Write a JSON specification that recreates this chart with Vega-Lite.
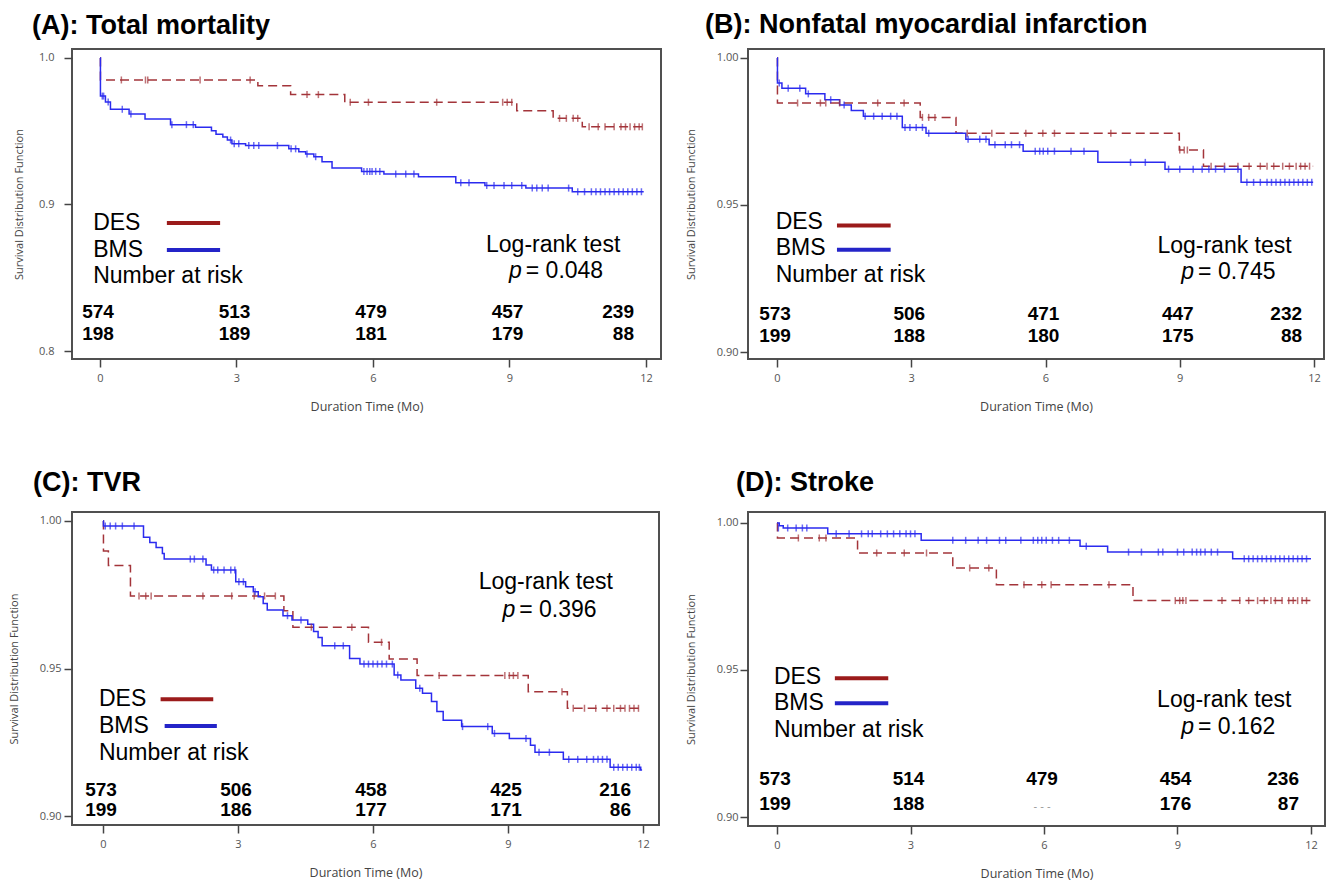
{
"$schema":"https://vega.github.io/schema/vega-lite/v6.json",
"background":"white",
"padding":{"left":7,"top":10,"right":5,"bottom":5},
"columns":2,
"bounds":"flush",
"spacing":{"row":153,"column":87},
"datasets":{
"curves":[
{"p":"A","g":"DES","t":0,"s":1},{"p":"A","g":"DES","t":0.01,"s":0.985},{"p":"A","g":"DES","t":3.47,"s":0.981},{"p":"A","g":"DES","t":4.19,"s":0.975},{"p":"A","g":"DES","t":5.38,"s":0.9698},{"p":"A","g":"DES","t":9.16,"s":0.964},{"p":"A","g":"DES","t":9.96,"s":0.9588},{"p":"A","g":"DES","t":10.6,"s":0.953},{"p":"A","g":"DES","t":11.95,"s":0.953},
{"p":"A","g":"BMS","t":0,"s":1},{"p":"A","g":"BMS","t":0.01,"s":0.974},{"p":"A","g":"BMS","t":0.12,"s":0.970},{"p":"A","g":"BMS","t":0.23,"s":0.965},{"p":"A","g":"BMS","t":0.64,"s":0.9618},{"p":"A","g":"BMS","t":0.99,"s":0.9584},{"p":"A","g":"BMS","t":1.55,"s":0.9545},{"p":"A","g":"BMS","t":2.1,"s":0.9527},{"p":"A","g":"BMS","t":2.45,"s":0.9504},{"p":"A","g":"BMS","t":2.55,"s":0.948},{"p":"A","g":"BMS","t":2.7,"s":0.946},{"p":"A","g":"BMS","t":2.8,"s":0.944},{"p":"A","g":"BMS","t":2.9,"s":0.9415},{"p":"A","g":"BMS","t":3.2,"s":0.9402},{"p":"A","g":"BMS","t":4.15,"s":0.938},{"p":"A","g":"BMS","t":4.37,"s":0.936},{"p":"A","g":"BMS","t":4.52,"s":0.9345},{"p":"A","g":"BMS","t":4.7,"s":0.9326},{"p":"A","g":"BMS","t":4.88,"s":0.9292},{"p":"A","g":"BMS","t":5.1,"s":0.9249},{"p":"A","g":"BMS","t":5.75,"s":0.9226},{"p":"A","g":"BMS","t":6.24,"s":0.9208},{"p":"A","g":"BMS","t":7.0,"s":0.919},{"p":"A","g":"BMS","t":7.82,"s":0.9149},{"p":"A","g":"BMS","t":8.46,"s":0.913},{"p":"A","g":"BMS","t":9.36,"s":0.9112},{"p":"A","g":"BMS","t":10.38,"s":0.9087},{"p":"A","g":"BMS","t":11.95,"s":0.9087},
{"p":"B","g":"DES","t":0,"s":1},{"p":"B","g":"DES","t":0.01,"s":0.9847},{"p":"B","g":"DES","t":3.2,"s":0.9798},{"p":"B","g":"DES","t":4.0,"s":0.9744},{"p":"B","g":"DES","t":8.99,"s":0.9687},{"p":"B","g":"DES","t":9.53,"s":0.9632},{"p":"B","g":"DES","t":11.98,"s":0.9632},
{"p":"B","g":"BMS","t":0,"s":1},{"p":"B","g":"BMS","t":0.01,"s":0.9915},{"p":"B","g":"BMS","t":0.11,"s":0.9897},{"p":"B","g":"BMS","t":0.64,"s":0.9878},{"p":"B","g":"BMS","t":1.07,"s":0.9858},{"p":"B","g":"BMS","t":1.4,"s":0.984},{"p":"B","g":"BMS","t":1.66,"s":0.9821},{"p":"B","g":"BMS","t":1.93,"s":0.9802},{"p":"B","g":"BMS","t":2.8,"s":0.9764},{"p":"B","g":"BMS","t":3.33,"s":0.9744},{"p":"B","g":"BMS","t":4.22,"s":0.9724},{"p":"B","g":"BMS","t":4.74,"s":0.9705},{"p":"B","g":"BMS","t":5.5,"s":0.9683},{"p":"B","g":"BMS","t":7.17,"s":0.9645},{"p":"B","g":"BMS","t":8.67,"s":0.9622},{"p":"B","g":"BMS","t":10.37,"s":0.9577},{"p":"B","g":"BMS","t":11.98,"s":0.9577},
{"p":"C","g":"DES","t":0,"s":1},{"p":"C","g":"DES","t":0.01,"s":0.9898},{"p":"C","g":"DES","t":0.12,"s":0.9849},{"p":"C","g":"DES","t":0.61,"s":0.9746},{"p":"C","g":"DES","t":4.02,"s":0.9696},{"p":"C","g":"DES","t":4.22,"s":0.964},{"p":"C","g":"DES","t":5.9,"s":0.9589},{"p":"C","g":"DES","t":6.36,"s":0.9532},{"p":"C","g":"DES","t":6.98,"s":0.9476},{"p":"C","g":"DES","t":9.45,"s":0.9421},{"p":"C","g":"DES","t":10.32,"s":0.9365},{"p":"C","g":"DES","t":11.98,"s":0.9365},
{"p":"C","g":"BMS","t":0,"s":1},{"p":"C","g":"BMS","t":0.01,"s":0.9983},{"p":"C","g":"BMS","t":0.9,"s":0.9945},{"p":"C","g":"BMS","t":1.04,"s":0.9927},{"p":"C","g":"BMS","t":1.18,"s":0.991},{"p":"C","g":"BMS","t":1.32,"s":0.989},{"p":"C","g":"BMS","t":1.36,"s":0.9871},{"p":"C","g":"BMS","t":2.29,"s":0.9851},{"p":"C","g":"BMS","t":2.41,"s":0.9834},{"p":"C","g":"BMS","t":2.95,"s":0.9794},{"p":"C","g":"BMS","t":3.17,"s":0.9777},{"p":"C","g":"BMS","t":3.34,"s":0.976},{"p":"C","g":"BMS","t":3.45,"s":0.9743},{"p":"C","g":"BMS","t":3.56,"s":0.972},{"p":"C","g":"BMS","t":3.65,"s":0.9698},{"p":"C","g":"BMS","t":4.0,"s":0.9679},{"p":"C","g":"BMS","t":4.2,"s":0.9664},{"p":"C","g":"BMS","t":4.55,"s":0.965},{"p":"C","g":"BMS","t":4.68,"s":0.9625},{"p":"C","g":"BMS","t":4.78,"s":0.9605},{"p":"C","g":"BMS","t":4.87,"s":0.9577},{"p":"C","g":"BMS","t":5.48,"s":0.9534},{"p":"C","g":"BMS","t":5.71,"s":0.9515},{"p":"C","g":"BMS","t":6.47,"s":0.9478},{"p":"C","g":"BMS","t":6.62,"s":0.9461},{"p":"C","g":"BMS","t":6.95,"s":0.9433},{"p":"C","g":"BMS","t":7.1,"s":0.9416},{"p":"C","g":"BMS","t":7.3,"s":0.9388},{"p":"C","g":"BMS","t":7.42,"s":0.9354},{"p":"C","g":"BMS","t":7.56,"s":0.9325},{"p":"C","g":"BMS","t":7.97,"s":0.9303},{"p":"C","g":"BMS","t":8.65,"s":0.928},{"p":"C","g":"BMS","t":9.03,"s":0.9263},{"p":"C","g":"BMS","t":9.5,"s":0.924},{"p":"C","g":"BMS","t":9.6,"s":0.9216},{"p":"C","g":"BMS","t":10.23,"s":0.9192},{"p":"C","g":"BMS","t":11.27,"s":0.9165},{"p":"C","g":"BMS","t":11.95,"s":0.9156},{"p":"C","g":"BMS","t":11.98,"s":0.9156},
{"p":"D","g":"DES","t":0,"s":1},{"p":"D","g":"DES","t":0.01,"s":0.9949},{"p":"D","g":"DES","t":1.81,"s":0.9898},{"p":"D","g":"DES","t":3.95,"s":0.9847},{"p":"D","g":"DES","t":4.93,"s":0.979},{"p":"D","g":"DES","t":8.0,"s":0.9736},{"p":"D","g":"DES","t":12.0,"s":0.9736},
{"p":"D","g":"BMS","t":0,"s":1},{"p":"D","g":"BMS","t":0.05,"s":0.9991},{"p":"D","g":"BMS","t":0.14,"s":0.9983},{"p":"D","g":"BMS","t":1.14,"s":0.9963},{"p":"D","g":"BMS","t":3.24,"s":0.9941},{"p":"D","g":"BMS","t":6.81,"s":0.9921},{"p":"D","g":"BMS","t":7.43,"s":0.9901},{"p":"D","g":"BMS","t":10.24,"s":0.9878},{"p":"D","g":"BMS","t":12.0,"s":0.9878}
],
"censor":[
{"p":"A","g":"DES","t":0.47,"s":0.985},{"p":"A","g":"DES","t":1.0,"s":0.985},{"p":"A","g":"DES","t":1.05,"s":0.985},{"p":"A","g":"DES","t":2.2,"s":0.985},{"p":"A","g":"DES","t":3.3,"s":0.985},{"p":"A","g":"DES","t":4.55,"s":0.975},{"p":"A","g":"DES","t":4.8,"s":0.975},{"p":"A","g":"DES","t":5.5,"s":0.9698},{"p":"A","g":"DES","t":5.9,"s":0.9698},{"p":"A","g":"DES","t":7.4,"s":0.9698},{"p":"A","g":"DES","t":8.85,"s":0.9698},{"p":"A","g":"DES","t":8.95,"s":0.9698},{"p":"A","g":"DES","t":9.05,"s":0.9698},{"p":"A","g":"DES","t":10.1,"s":0.9588},{"p":"A","g":"DES","t":10.25,"s":0.9588},{"p":"A","g":"DES","t":10.4,"s":0.9588},{"p":"A","g":"DES","t":10.5,"s":0.9588},{"p":"A","g":"DES","t":10.75,"s":0.953},{"p":"A","g":"DES","t":10.95,"s":0.953},{"p":"A","g":"DES","t":11.1,"s":0.953},{"p":"A","g":"DES","t":11.3,"s":0.953},{"p":"A","g":"DES","t":11.45,"s":0.953},{"p":"A","g":"DES","t":11.55,"s":0.953},{"p":"A","g":"DES","t":11.65,"s":0.953},{"p":"A","g":"DES","t":11.75,"s":0.953},{"p":"A","g":"DES","t":11.85,"s":0.953},{"p":"A","g":"DES","t":11.92,"s":0.953},
{"p":"A","g":"BMS","t":0.05,"s":0.974},{"p":"A","g":"BMS","t":0.08,"s":0.974},{"p":"A","g":"BMS","t":0.18,"s":0.970},{"p":"A","g":"BMS","t":0.49,"s":0.965},{"p":"A","g":"BMS","t":0.68,"s":0.9618},{"p":"A","g":"BMS","t":1.58,"s":0.9545},{"p":"A","g":"BMS","t":1.9,"s":0.9545},{"p":"A","g":"BMS","t":2.05,"s":0.9545},{"p":"A","g":"BMS","t":2.87,"s":0.944},{"p":"A","g":"BMS","t":2.95,"s":0.9415},{"p":"A","g":"BMS","t":3.05,"s":0.9415},{"p":"A","g":"BMS","t":3.27,"s":0.9402},{"p":"A","g":"BMS","t":3.38,"s":0.9402},{"p":"A","g":"BMS","t":3.49,"s":0.9402},{"p":"A","g":"BMS","t":3.9,"s":0.9402},{"p":"A","g":"BMS","t":4.2,"s":0.938},{"p":"A","g":"BMS","t":4.3,"s":0.938},{"p":"A","g":"BMS","t":4.55,"s":0.9345},{"p":"A","g":"BMS","t":4.74,"s":0.9326},{"p":"A","g":"BMS","t":5.8,"s":0.9226},{"p":"A","g":"BMS","t":5.87,"s":0.9226},{"p":"A","g":"BMS","t":5.93,"s":0.9226},{"p":"A","g":"BMS","t":5.98,"s":0.9226},{"p":"A","g":"BMS","t":6.06,"s":0.9226},{"p":"A","g":"BMS","t":6.15,"s":0.9226},{"p":"A","g":"BMS","t":6.5,"s":0.9208},{"p":"A","g":"BMS","t":6.72,"s":0.9208},{"p":"A","g":"BMS","t":6.9,"s":0.9208},{"p":"A","g":"BMS","t":7.93,"s":0.9149},{"p":"A","g":"BMS","t":8.11,"s":0.9149},{"p":"A","g":"BMS","t":8.5,"s":0.913},{"p":"A","g":"BMS","t":8.66,"s":0.913},{"p":"A","g":"BMS","t":8.88,"s":0.913},{"p":"A","g":"BMS","t":9.05,"s":0.913},{"p":"A","g":"BMS","t":9.27,"s":0.913},{"p":"A","g":"BMS","t":9.5,"s":0.9112},{"p":"A","g":"BMS","t":9.6,"s":0.9112},{"p":"A","g":"BMS","t":9.72,"s":0.9112},{"p":"A","g":"BMS","t":9.85,"s":0.9112},{"p":"A","g":"BMS","t":10.3,"s":0.9112},{"p":"A","g":"BMS","t":10.5,"s":0.9087},{"p":"A","g":"BMS","t":10.65,"s":0.9087},{"p":"A","g":"BMS","t":10.8,"s":0.9087},{"p":"A","g":"BMS","t":10.9,"s":0.9087},{"p":"A","g":"BMS","t":11.0,"s":0.9087},{"p":"A","g":"BMS","t":11.1,"s":0.9087},{"p":"A","g":"BMS","t":11.2,"s":0.9087},{"p":"A","g":"BMS","t":11.3,"s":0.9087},{"p":"A","g":"BMS","t":11.4,"s":0.9087},{"p":"A","g":"BMS","t":11.5,"s":0.9087},{"p":"A","g":"BMS","t":11.6,"s":0.9087},{"p":"A","g":"BMS","t":11.7,"s":0.9087},{"p":"A","g":"BMS","t":11.8,"s":0.9087},{"p":"A","g":"BMS","t":11.9,"s":0.9087},
{"p":"B","g":"DES","t":0.46,"s":0.9847},{"p":"B","g":"DES","t":0.97,"s":0.9847},{"p":"B","g":"DES","t":1.09,"s":0.9847},{"p":"B","g":"DES","t":1.4,"s":0.9847},{"p":"B","g":"DES","t":2.25,"s":0.9847},{"p":"B","g":"DES","t":2.84,"s":0.9847},{"p":"B","g":"DES","t":3.25,"s":0.9798},{"p":"B","g":"DES","t":3.39,"s":0.9798},{"p":"B","g":"DES","t":3.53,"s":0.9798},{"p":"B","g":"DES","t":4.25,"s":0.9744},{"p":"B","g":"DES","t":4.8,"s":0.9744},{"p":"B","g":"DES","t":5.56,"s":0.9744},{"p":"B","g":"DES","t":5.94,"s":0.9744},{"p":"B","g":"DES","t":6.2,"s":0.9744},{"p":"B","g":"DES","t":7.46,"s":0.9744},{"p":"B","g":"DES","t":9.0,"s":0.9687},{"p":"B","g":"DES","t":9.1,"s":0.9687},{"p":"B","g":"DES","t":9.17,"s":0.9687},{"p":"B","g":"DES","t":9.7,"s":0.9632},{"p":"B","g":"DES","t":10.0,"s":0.9632},{"p":"B","g":"DES","t":10.3,"s":0.9632},{"p":"B","g":"DES","t":10.55,"s":0.9632},{"p":"B","g":"DES","t":10.8,"s":0.9632},{"p":"B","g":"DES","t":10.95,"s":0.9632},{"p":"B","g":"DES","t":11.1,"s":0.9632},{"p":"B","g":"DES","t":11.3,"s":0.9632},{"p":"B","g":"DES","t":11.45,"s":0.9632},{"p":"B","g":"DES","t":11.6,"s":0.9632},{"p":"B","g":"DES","t":11.7,"s":0.9632},{"p":"B","g":"DES","t":11.8,"s":0.9632},{"p":"B","g":"DES","t":11.9,"s":0.9632},
{"p":"B","g":"BMS","t":0.05,"s":0.9915},{"p":"B","g":"BMS","t":0.25,"s":0.9897},{"p":"B","g":"BMS","t":0.51,"s":0.9897},{"p":"B","g":"BMS","t":0.7,"s":0.9878},{"p":"B","g":"BMS","t":1.2,"s":0.9858},{"p":"B","g":"BMS","t":1.5,"s":0.984},{"p":"B","g":"BMS","t":1.97,"s":0.9802},{"p":"B","g":"BMS","t":2.16,"s":0.9802},{"p":"B","g":"BMS","t":2.35,"s":0.9802},{"p":"B","g":"BMS","t":2.54,"s":0.9802},{"p":"B","g":"BMS","t":2.68,"s":0.9802},{"p":"B","g":"BMS","t":2.86,"s":0.9764},{"p":"B","g":"BMS","t":2.97,"s":0.9764},{"p":"B","g":"BMS","t":3.11,"s":0.9764},{"p":"B","g":"BMS","t":3.25,"s":0.9764},{"p":"B","g":"BMS","t":3.39,"s":0.9744},{"p":"B","g":"BMS","t":4.27,"s":0.9724},{"p":"B","g":"BMS","t":4.53,"s":0.9724},{"p":"B","g":"BMS","t":4.67,"s":0.9724},{"p":"B","g":"BMS","t":4.87,"s":0.9705},{"p":"B","g":"BMS","t":5.1,"s":0.9705},{"p":"B","g":"BMS","t":5.24,"s":0.9705},{"p":"B","g":"BMS","t":5.42,"s":0.9705},{"p":"B","g":"BMS","t":5.77,"s":0.9683},{"p":"B","g":"BMS","t":5.87,"s":0.9683},{"p":"B","g":"BMS","t":5.95,"s":0.9683},{"p":"B","g":"BMS","t":6.05,"s":0.9683},{"p":"B","g":"BMS","t":6.2,"s":0.9683},{"p":"B","g":"BMS","t":6.57,"s":0.9683},{"p":"B","g":"BMS","t":6.86,"s":0.9683},{"p":"B","g":"BMS","t":7.9,"s":0.9645},{"p":"B","g":"BMS","t":8.23,"s":0.9645},{"p":"B","g":"BMS","t":8.75,"s":0.9622},{"p":"B","g":"BMS","t":9.0,"s":0.9622},{"p":"B","g":"BMS","t":9.3,"s":0.9622},{"p":"B","g":"BMS","t":9.5,"s":0.9622},{"p":"B","g":"BMS","t":9.65,"s":0.9622},{"p":"B","g":"BMS","t":9.8,"s":0.9622},{"p":"B","g":"BMS","t":10.0,"s":0.9622},{"p":"B","g":"BMS","t":10.3,"s":0.9622},{"p":"B","g":"BMS","t":10.5,"s":0.9577},{"p":"B","g":"BMS","t":10.65,"s":0.9577},{"p":"B","g":"BMS","t":10.8,"s":0.9577},{"p":"B","g":"BMS","t":10.95,"s":0.9577},{"p":"B","g":"BMS","t":11.05,"s":0.9577},{"p":"B","g":"BMS","t":11.15,"s":0.9577},{"p":"B","g":"BMS","t":11.25,"s":0.9577},{"p":"B","g":"BMS","t":11.35,"s":0.9577},{"p":"B","g":"BMS","t":11.45,"s":0.9577},{"p":"B","g":"BMS","t":11.55,"s":0.9577},{"p":"B","g":"BMS","t":11.65,"s":0.9577},{"p":"B","g":"BMS","t":11.75,"s":0.9577},{"p":"B","g":"BMS","t":11.85,"s":0.9577},{"p":"B","g":"BMS","t":11.95,"s":0.9577},
{"p":"C","g":"DES","t":0.8,"s":0.9746},{"p":"C","g":"DES","t":0.95,"s":0.9746},{"p":"C","g":"DES","t":1.07,"s":0.9746},{"p":"C","g":"DES","t":2.22,"s":0.9746},{"p":"C","g":"DES","t":2.86,"s":0.9746},{"p":"C","g":"DES","t":3.36,"s":0.9746},{"p":"C","g":"DES","t":3.59,"s":0.9746},{"p":"C","g":"DES","t":3.83,"s":0.9746},{"p":"C","g":"DES","t":4.63,"s":0.964},{"p":"C","g":"DES","t":5.53,"s":0.964},{"p":"C","g":"DES","t":6.19,"s":0.9589},{"p":"C","g":"DES","t":7.47,"s":0.9476},{"p":"C","g":"DES","t":8.93,"s":0.9476},{"p":"C","g":"DES","t":9.03,"s":0.9476},{"p":"C","g":"DES","t":9.12,"s":0.9476},{"p":"C","g":"DES","t":9.22,"s":0.9476},{"p":"C","g":"DES","t":10.2,"s":0.9421},{"p":"C","g":"DES","t":10.45,"s":0.9365},{"p":"C","g":"DES","t":10.7,"s":0.9365},{"p":"C","g":"DES","t":10.95,"s":0.9365},{"p":"C","g":"DES","t":11.2,"s":0.9365},{"p":"C","g":"DES","t":11.35,"s":0.9365},{"p":"C","g":"DES","t":11.5,"s":0.9365},{"p":"C","g":"DES","t":11.6,"s":0.9365},{"p":"C","g":"DES","t":11.7,"s":0.9365},{"p":"C","g":"DES","t":11.8,"s":0.9365},{"p":"C","g":"DES","t":11.9,"s":0.9365},
{"p":"C","g":"BMS","t":0.05,"s":0.9983},{"p":"C","g":"BMS","t":0.16,"s":0.9983},{"p":"C","g":"BMS","t":0.28,"s":0.9983},{"p":"C","g":"BMS","t":0.43,"s":0.9983},{"p":"C","g":"BMS","t":0.69,"s":0.9983},{"p":"C","g":"BMS","t":1.94,"s":0.9871},{"p":"C","g":"BMS","t":2.03,"s":0.9871},{"p":"C","g":"BMS","t":2.22,"s":0.9871},{"p":"C","g":"BMS","t":2.46,"s":0.9834},{"p":"C","g":"BMS","t":2.55,"s":0.9834},{"p":"C","g":"BMS","t":2.69,"s":0.9834},{"p":"C","g":"BMS","t":2.84,"s":0.9834},{"p":"C","g":"BMS","t":2.93,"s":0.9834},{"p":"C","g":"BMS","t":3.02,"s":0.9794},{"p":"C","g":"BMS","t":3.12,"s":0.9794},{"p":"C","g":"BMS","t":3.38,"s":0.976},{"p":"C","g":"BMS","t":4.1,"s":0.9679},{"p":"C","g":"BMS","t":4.4,"s":0.9664},{"p":"C","g":"BMS","t":5.15,"s":0.9577},{"p":"C","g":"BMS","t":5.34,"s":0.9577},{"p":"C","g":"BMS","t":5.8,"s":0.9515},{"p":"C","g":"BMS","t":5.9,"s":0.9515},{"p":"C","g":"BMS","t":6.0,"s":0.9515},{"p":"C","g":"BMS","t":6.1,"s":0.9515},{"p":"C","g":"BMS","t":6.2,"s":0.9515},{"p":"C","g":"BMS","t":6.3,"s":0.9515},{"p":"C","g":"BMS","t":6.43,"s":0.9515},{"p":"C","g":"BMS","t":6.55,"s":0.9478},{"p":"C","g":"BMS","t":7.04,"s":0.9433},{"p":"C","g":"BMS","t":7.99,"s":0.9303},{"p":"C","g":"BMS","t":8.55,"s":0.9303},{"p":"C","g":"BMS","t":8.7,"s":0.928},{"p":"C","g":"BMS","t":9.4,"s":0.9263},{"p":"C","g":"BMS","t":9.69,"s":0.9216},{"p":"C","g":"BMS","t":9.92,"s":0.9216},{"p":"C","g":"BMS","t":10.35,"s":0.9192},{"p":"C","g":"BMS","t":10.55,"s":0.9192},{"p":"C","g":"BMS","t":10.75,"s":0.9192},{"p":"C","g":"BMS","t":10.9,"s":0.9192},{"p":"C","g":"BMS","t":11.0,"s":0.9192},{"p":"C","g":"BMS","t":11.1,"s":0.9192},{"p":"C","g":"BMS","t":11.2,"s":0.9192},{"p":"C","g":"BMS","t":11.35,"s":0.9165},{"p":"C","g":"BMS","t":11.45,"s":0.9165},{"p":"C","g":"BMS","t":11.55,"s":0.9165},{"p":"C","g":"BMS","t":11.65,"s":0.9165},{"p":"C","g":"BMS","t":11.75,"s":0.9165},{"p":"C","g":"BMS","t":11.85,"s":0.9165},{"p":"C","g":"BMS","t":11.92,"s":0.9165},
{"p":"D","g":"DES","t":0.48,"s":0.9949},{"p":"D","g":"DES","t":0.95,"s":0.9949},{"p":"D","g":"DES","t":1.1,"s":0.9949},{"p":"D","g":"DES","t":2.24,"s":0.9898},{"p":"D","g":"DES","t":2.86,"s":0.9898},{"p":"D","g":"DES","t":3.36,"s":0.9898},{"p":"D","g":"DES","t":4.33,"s":0.9847},{"p":"D","g":"DES","t":4.76,"s":0.9847},{"p":"D","g":"DES","t":5.55,"s":0.979},{"p":"D","g":"DES","t":5.95,"s":0.979},{"p":"D","g":"DES","t":6.16,"s":0.979},{"p":"D","g":"DES","t":7.46,"s":0.979},{"p":"D","g":"DES","t":8.95,"s":0.9736},{"p":"D","g":"DES","t":9.05,"s":0.9736},{"p":"D","g":"DES","t":9.12,"s":0.9736},{"p":"D","g":"DES","t":9.19,"s":0.9736},{"p":"D","g":"DES","t":10.0,"s":0.9736},{"p":"D","g":"DES","t":10.4,"s":0.9736},{"p":"D","g":"DES","t":10.6,"s":0.9736},{"p":"D","g":"DES","t":10.8,"s":0.9736},{"p":"D","g":"DES","t":10.95,"s":0.9736},{"p":"D","g":"DES","t":11.1,"s":0.9736},{"p":"D","g":"DES","t":11.2,"s":0.9736},{"p":"D","g":"DES","t":11.35,"s":0.9736},{"p":"D","g":"DES","t":11.5,"s":0.9736},{"p":"D","g":"DES","t":11.6,"s":0.9736},{"p":"D","g":"DES","t":11.7,"s":0.9736},{"p":"D","g":"DES","t":11.8,"s":0.9736},{"p":"D","g":"DES","t":11.9,"s":0.9736},
{"p":"D","g":"BMS","t":0.03,"s":0.9983},{"p":"D","g":"BMS","t":0.24,"s":0.9983},{"p":"D","g":"BMS","t":0.43,"s":0.9983},{"p":"D","g":"BMS","t":0.57,"s":0.9983},{"p":"D","g":"BMS","t":0.67,"s":0.9983},{"p":"D","g":"BMS","t":1.33,"s":0.9963},{"p":"D","g":"BMS","t":1.62,"s":0.9963},{"p":"D","g":"BMS","t":1.9,"s":0.9963},{"p":"D","g":"BMS","t":2.05,"s":0.9963},{"p":"D","g":"BMS","t":2.14,"s":0.9963},{"p":"D","g":"BMS","t":2.33,"s":0.9963},{"p":"D","g":"BMS","t":2.48,"s":0.9963},{"p":"D","g":"BMS","t":2.62,"s":0.9963},{"p":"D","g":"BMS","t":2.76,"s":0.9963},{"p":"D","g":"BMS","t":2.9,"s":0.9963},{"p":"D","g":"BMS","t":3.0,"s":0.9963},{"p":"D","g":"BMS","t":3.1,"s":0.9963},{"p":"D","g":"BMS","t":3.95,"s":0.9941},{"p":"D","g":"BMS","t":4.24,"s":0.9941},{"p":"D","g":"BMS","t":4.52,"s":0.9941},{"p":"D","g":"BMS","t":4.71,"s":0.9941},{"p":"D","g":"BMS","t":5.0,"s":0.9941},{"p":"D","g":"BMS","t":5.14,"s":0.9941},{"p":"D","g":"BMS","t":5.48,"s":0.9941},{"p":"D","g":"BMS","t":5.76,"s":0.9941},{"p":"D","g":"BMS","t":5.86,"s":0.9941},{"p":"D","g":"BMS","t":5.95,"s":0.9941},{"p":"D","g":"BMS","t":6.05,"s":0.9941},{"p":"D","g":"BMS","t":6.19,"s":0.9941},{"p":"D","g":"BMS","t":6.33,"s":0.9941},{"p":"D","g":"BMS","t":6.57,"s":0.9941},{"p":"D","g":"BMS","t":6.95,"s":0.9921},{"p":"D","g":"BMS","t":7.9,"s":0.9901},{"p":"D","g":"BMS","t":8.19,"s":0.9901},{"p":"D","g":"BMS","t":8.57,"s":0.9901},{"p":"D","g":"BMS","t":8.67,"s":0.9901},{"p":"D","g":"BMS","t":9.0,"s":0.9901},{"p":"D","g":"BMS","t":9.14,"s":0.9901},{"p":"D","g":"BMS","t":9.33,"s":0.9901},{"p":"D","g":"BMS","t":9.43,"s":0.9901},{"p":"D","g":"BMS","t":9.52,"s":0.9901},{"p":"D","g":"BMS","t":9.62,"s":0.9901},{"p":"D","g":"BMS","t":9.76,"s":0.9901},{"p":"D","g":"BMS","t":9.9,"s":0.9901},{"p":"D","g":"BMS","t":10.5,"s":0.9878},{"p":"D","g":"BMS","t":10.6,"s":0.9878},{"p":"D","g":"BMS","t":10.7,"s":0.9878},{"p":"D","g":"BMS","t":10.8,"s":0.9878},{"p":"D","g":"BMS","t":10.9,"s":0.9878},{"p":"D","g":"BMS","t":11.0,"s":0.9878},{"p":"D","g":"BMS","t":11.1,"s":0.9878},{"p":"D","g":"BMS","t":11.2,"s":0.9878},{"p":"D","g":"BMS","t":11.3,"s":0.9878},{"p":"D","g":"BMS","t":11.4,"s":0.9878},{"p":"D","g":"BMS","t":11.5,"s":0.9878},{"p":"D","g":"BMS","t":11.6,"s":0.9878},{"p":"D","g":"BMS","t":11.7,"s":0.9878},{"p":"D","g":"BMS","t":11.8,"s":0.9878},{"p":"D","g":"BMS","t":11.9,"s":0.9878}
],
"risk":[
{"p":"A","t":0,"s":0.8266,"n":"574"},{"p":"A","t":3,"s":0.8266,"n":"513"},{"p":"A","t":6,"s":0.8266,"n":"479"},{"p":"A","t":9,"s":0.8266,"n":"457"},{"p":"A","t":12,"s":0.8266,"n":"239"},
{"p":"A","t":0,"s":0.8116,"n":"198"},{"p":"A","t":3,"s":0.8116,"n":"189"},{"p":"A","t":6,"s":0.8116,"n":"181"},{"p":"A","t":9,"s":0.8116,"n":"179"},{"p":"A","t":12,"s":0.8116,"n":"88"},
{"p":"B","t":0,"s":0.9129,"n":"573"},{"p":"B","t":3,"s":0.9129,"n":"506"},{"p":"B","t":6,"s":0.9129,"n":"471"},{"p":"B","t":9,"s":0.9129,"n":"447"},{"p":"B","t":12,"s":0.9129,"n":"232"},
{"p":"B","t":0,"s":0.9053,"n":"199"},{"p":"B","t":3,"s":0.9053,"n":"188"},{"p":"B","t":6,"s":0.9053,"n":"180"},{"p":"B","t":9,"s":0.9053,"n":"175"},{"p":"B","t":12,"s":0.9053,"n":"88"},
{"p":"C","t":0,"s":0.9088,"n":"573"},{"p":"C","t":3,"s":0.9088,"n":"506"},{"p":"C","t":6,"s":0.9088,"n":"458"},{"p":"C","t":9,"s":0.9088,"n":"425"},{"p":"C","t":12,"s":0.9088,"n":"216"},
{"p":"C","t":0,"s":0.902,"n":"199"},{"p":"C","t":3,"s":0.902,"n":"186"},{"p":"C","t":6,"s":0.902,"n":"177"},{"p":"C","t":9,"s":0.902,"n":"171"},{"p":"C","t":12,"s":0.902,"n":"86"},
{"p":"D","t":0,"s":0.9128,"n":"573"},{"p":"D","t":3,"s":0.9128,"n":"514"},{"p":"D","t":6,"s":0.9128,"n":"479"},{"p":"D","t":9,"s":0.9128,"n":"454"},{"p":"D","t":12,"s":0.9128,"n":"236"},
{"p":"D","t":0,"s":0.9045,"n":"199"},{"p":"D","t":3,"s":0.9045,"n":"188"},{"p":"D","t":9,"s":0.9045,"n":"176"},{"p":"D","t":12,"s":0.9045,"n":"87"}
],
"annot":[
{"p":"A","k":"leg","label":"DES","t":-0.15,"s":0.8874},{"p":"A","k":"leg","label":"BMS","t":-0.15,"s":0.8689},{"p":"A","k":"leg","label":"Number at risk","t":-0.15,"s":0.8512},
{"p":"A","k":"lineDES","t":1.47,"t2":2.64,"s":0.8874},{"p":"A","k":"lineBMS","t":1.47,"t2":2.64,"s":0.8689},
{"p":"A","k":"lr","label":"Log-rank test","t":9.96,"s":0.8724},{"p":"A","k":"pv","label":"= 0.048","t":9.27,"s":0.8546},
{"p":"B","k":"leg","label":"DES","t":-0.03,"s":0.9443},{"p":"B","k":"leg","label":"BMS","t":-0.03,"s":0.9353},{"p":"B","k":"leg","label":"Number at risk","t":-0.03,"s":0.9262},
{"p":"B","k":"lineDES","t":1.34,"t2":2.54,"s":0.943},{"p":"B","k":"lineBMS","t":1.34,"t2":2.54,"s":0.9348},
{"p":"B","k":"lr","label":"Log-rank test","t":10.0,"s":0.9362},{"p":"B","k":"pv","label":"= 0.745","t":9.32,"s":0.9271},
{"p":"C","k":"leg","label":"DES","t":-0.09,"s":0.9396},{"p":"C","k":"leg","label":"BMS","t":-0.09,"s":0.9305},{"p":"C","k":"leg","label":"Number at risk","t":-0.09,"s":0.9213},
{"p":"C","k":"lineDES","t":1.28,"t2":2.45,"s":0.9396},{"p":"C","k":"lineBMS","t":1.37,"t2":2.53,"s":0.9305},
{"p":"C","k":"lr","label":"Log-rank test","t":9.84,"s":0.9794},{"p":"C","k":"pv","label":"= 0.396","t":9.16,"s":0.9698},
{"p":"D","k":"leg","label":"DES","t":-0.07,"s":0.9475},{"p":"D","k":"leg","label":"BMS","t":-0.07,"s":0.9387},{"p":"D","k":"leg","label":"Number at risk","t":-0.07,"s":0.9296},
{"p":"D","k":"lineDES","t":1.3,"t2":2.5,"s":0.9472},{"p":"D","k":"lineBMS","t":1.3,"t2":2.5,"s":0.9387},
{"p":"D","k":"lr","label":"Log-rank test","t":10.05,"s":0.9398},{"p":"D","k":"pv","label":"= 0.162","t":9.37,"s":0.9307},
{"p":"D","k":"faint","label":"- - -","t":6,"s":0.9035}
]
},
"config":{
"view":{"stroke":"#505050","strokeWidth":2},
"axis":{"labelFont":"Open Sans","labelFontSize":11,"labelColor":"#555555","titleFont":"Open Sans","titleFontWeight":"normal","titleColor":"#444444","tickColor":"#444444","tickWidth":1.5,"tickSize":8,"domain":false,"grid":false},
"axisX":{"titleFontSize":12.5,"labelPadding":5,"titlePadding":17},
"axisY":{"titleFontSize":11},
"title":{"font":"Liberation Sans","fontSize":27,"fontWeight":"bold","color":"black","anchor":"start","frame":"group"}
},
"concat":[
{"width":589,"height":310,
"title":{"text":"(A): Total mortality","dx":-40,"offset":9},
"encoding":{
"x":{"field":"t","type":"quantitative","scale":{"domain":[-0.615,12.33],"nice":false,"zero":false},"axis":{"values":[0,3,6,9,12],"format":"d","title":"Duration Time (Mo)"}},
"y":{"field":"s","type":"quantitative","scale":{"domain":[0.79454,1.00614],"nice":false,"zero":false},"axis":{"values":[0.8,0.9,1.0],"format":".1f","title":"Survival Distribution Function","labelPadding":10,"titlePadding":14}}},
"layer":[
{"data":{"name":"curves"},"transform":[{"filter":"datum.p==='A' && datum.g==='DES'"}],"mark":{"type":"line","interpolate":"step-after","color":"#a3343a","strokeWidth":1.5,"strokeDash":[9,5]},"encoding":{}},
{"data":{"name":"curves"},"transform":[{"filter":"datum.p==='A' && datum.g==='BMS'"}],"mark":{"type":"line","interpolate":"step-after","color":"#2b2bef","strokeWidth":1.5},"encoding":{}},
{"data":{"name":"censor"},"transform":[{"filter":"datum.p==='A' && datum.g==='DES'"}],"mark":{"type":"tick","orient":"vertical","color":"#a3343a","size":7,"thickness":1.5}},
{"data":{"name":"censor"},"transform":[{"filter":"datum.p==='A' && datum.g==='BMS'"}],"mark":{"type":"tick","orient":"vertical","color":"#2b2bef","size":7,"thickness":1.5}},
{"data":{"name":"annot"},"transform":[{"filter":"datum.p==='A' && datum.k==='lineDES'"}],"mark":{"type":"rule","color":"#9b1b1b","strokeWidth":4},"encoding":{"x2":{"field":"t2"}}},
{"data":{"name":"annot"},"transform":[{"filter":"datum.p==='A' && datum.k==='lineBMS'"}],"mark":{"type":"rule","color":"#2424c8","strokeWidth":4},"encoding":{"x2":{"field":"t2"}}},
{"data":{"name":"annot"},"transform":[{"filter":"datum.p==='A' && datum.k==='leg'"}],"mark":{"type":"text","align":"left","baseline":"middle","font":"Liberation Sans","fontSize":23,"color":"black"},"encoding":{"text":{"field":"label"}}},
{"data":{"name":"annot"},"transform":[{"filter":"datum.p==='A' && datum.k==='lr'"}],"mark":{"type":"text","align":"center","baseline":"middle","font":"Liberation Sans","fontSize":23,"color":"black"},"encoding":{"text":{"field":"label"}}},
{"data":{"name":"annot"},"transform":[{"filter":"datum.p==='A' && datum.k==='pv'"}],"mark":{"type":"text","align":"right","baseline":"middle","font":"Liberation Sans","fontSize":23,"fontStyle":"italic","color":"black"},"encoding":{"text":{"value":"p"}}},
{"data":{"name":"annot"},"transform":[{"filter":"datum.p==='A' && datum.k==='pv'"}],"mark":{"type":"text","align":"left","baseline":"middle","font":"Liberation Sans","fontSize":23,"color":"black","dx":4},"encoding":{"text":{"field":"label"}}},
{"data":{"name":"risk"},"transform":[{"filter":"datum.p==='A' && datum.t<12"}],"mark":{"type":"text","align":"center","baseline":"middle","font":"Liberation Sans","fontSize":19,"fontWeight":"bold","color":"black","dx":-2},"encoding":{"text":{"field":"n"}}},
{"data":{"name":"risk"},"transform":[{"filter":"datum.p==='A' && datum.t===12"}],"mark":{"type":"text","align":"right","baseline":"middle","font":"Liberation Sans","fontSize":19,"fontWeight":"bold","color":"black","dx":-12},"encoding":{"text":{"field":"n"}}}
]},
{"width":576,"height":310,
"title":{"text":"(B): Nonfatal myocardial infarction","dx":-43,"offset":10},
"encoding":{
"x":{"field":"t","type":"quantitative","scale":{"domain":[-0.648,12.223],"nice":false,"zero":false},"axis":{"values":[0,3,6,9,12],"format":"d","title":"Duration Time (Mo)"}},
"y":{"field":"s","type":"quantitative","scale":{"domain":[0.89762,1.00306],"nice":false,"zero":false},"axis":{"values":[0.9,0.95,1.0],"format":".2f","title":"Survival Distribution Function","labelPadding":2,"titlePadding":20}}},
"layer":[
{"data":{"name":"curves"},"transform":[{"filter":"datum.p==='B' && datum.g==='DES'"}],"mark":{"type":"line","interpolate":"step-after","color":"#a3343a","strokeWidth":1.5,"strokeDash":[9,5]},"encoding":{}},
{"data":{"name":"curves"},"transform":[{"filter":"datum.p==='B' && datum.g==='BMS'"}],"mark":{"type":"line","interpolate":"step-after","color":"#2b2bef","strokeWidth":1.5},"encoding":{}},
{"data":{"name":"censor"},"transform":[{"filter":"datum.p==='B' && datum.g==='DES'"}],"mark":{"type":"tick","orient":"vertical","color":"#a3343a","size":7,"thickness":1.5}},
{"data":{"name":"censor"},"transform":[{"filter":"datum.p==='B' && datum.g==='BMS'"}],"mark":{"type":"tick","orient":"vertical","color":"#2b2bef","size":7,"thickness":1.5}},
{"data":{"name":"annot"},"transform":[{"filter":"datum.p==='B' && datum.k==='lineDES'"}],"mark":{"type":"rule","color":"#9b1b1b","strokeWidth":4},"encoding":{"x2":{"field":"t2"}}},
{"data":{"name":"annot"},"transform":[{"filter":"datum.p==='B' && datum.k==='lineBMS'"}],"mark":{"type":"rule","color":"#2424c8","strokeWidth":4},"encoding":{"x2":{"field":"t2"}}},
{"data":{"name":"annot"},"transform":[{"filter":"datum.p==='B' && datum.k==='leg'"}],"mark":{"type":"text","align":"left","baseline":"middle","font":"Liberation Sans","fontSize":23,"color":"black"},"encoding":{"text":{"field":"label"}}},
{"data":{"name":"annot"},"transform":[{"filter":"datum.p==='B' && datum.k==='lr'"}],"mark":{"type":"text","align":"center","baseline":"middle","font":"Liberation Sans","fontSize":23,"color":"black"},"encoding":{"text":{"field":"label"}}},
{"data":{"name":"annot"},"transform":[{"filter":"datum.p==='B' && datum.k==='pv'"}],"mark":{"type":"text","align":"right","baseline":"middle","font":"Liberation Sans","fontSize":23,"fontStyle":"italic","color":"black"},"encoding":{"text":{"value":"p"}}},
{"data":{"name":"annot"},"transform":[{"filter":"datum.p==='B' && datum.k==='pv'"}],"mark":{"type":"text","align":"left","baseline":"middle","font":"Liberation Sans","fontSize":23,"color":"black","dx":4},"encoding":{"text":{"field":"label"}}},
{"data":{"name":"risk"},"transform":[{"filter":"datum.p==='B' && datum.t<12"}],"mark":{"type":"text","align":"center","baseline":"middle","font":"Liberation Sans","fontSize":19,"fontWeight":"bold","color":"black","dx":-2},"encoding":{"text":{"field":"n"}}},
{"data":{"name":"risk"},"transform":[{"filter":"datum.p==='B' && datum.t===12"}],"mark":{"type":"text","align":"right","baseline":"middle","font":"Liberation Sans","fontSize":19,"fontWeight":"bold","color":"black","dx":-12},"encoding":{"text":{"field":"n"}}}
]},
{"width":587,"height":313,
"title":{"text":"(C): TVR","dx":-39,"offset":15},
"encoding":{
"x":{"field":"t","type":"quantitative","scale":{"domain":[-0.689,12.356],"nice":false,"zero":false},"axis":{"values":[0,3,6,9,12],"format":"d","title":"Duration Time (Mo)"}},
"y":{"field":"s","type":"quantitative","scale":{"domain":[0.89695,1.00305],"nice":false,"zero":false},"axis":{"values":[0.9,0.95,1.0],"format":".2f","title":"Survival Distribution Function","labelPadding":3,"titlePadding":20}}},
"layer":[
{"data":{"name":"curves"},"transform":[{"filter":"datum.p==='C' && datum.g==='DES'"}],"mark":{"type":"line","interpolate":"step-after","color":"#a3343a","strokeWidth":1.5,"strokeDash":[9,5]},"encoding":{}},
{"data":{"name":"curves"},"transform":[{"filter":"datum.p==='C' && datum.g==='BMS'"}],"mark":{"type":"line","interpolate":"step-after","color":"#2b2bef","strokeWidth":1.5},"encoding":{}},
{"data":{"name":"censor"},"transform":[{"filter":"datum.p==='C' && datum.g==='DES'"}],"mark":{"type":"tick","orient":"vertical","color":"#a3343a","size":7,"thickness":1.5}},
{"data":{"name":"censor"},"transform":[{"filter":"datum.p==='C' && datum.g==='BMS'"}],"mark":{"type":"tick","orient":"vertical","color":"#2b2bef","size":7,"thickness":1.5}},
{"data":{"name":"annot"},"transform":[{"filter":"datum.p==='C' && datum.k==='lineDES'"}],"mark":{"type":"rule","color":"#9b1b1b","strokeWidth":4},"encoding":{"x2":{"field":"t2"}}},
{"data":{"name":"annot"},"transform":[{"filter":"datum.p==='C' && datum.k==='lineBMS'"}],"mark":{"type":"rule","color":"#2424c8","strokeWidth":4},"encoding":{"x2":{"field":"t2"}}},
{"data":{"name":"annot"},"transform":[{"filter":"datum.p==='C' && datum.k==='leg'"}],"mark":{"type":"text","align":"left","baseline":"middle","font":"Liberation Sans","fontSize":23,"color":"black"},"encoding":{"text":{"field":"label"}}},
{"data":{"name":"annot"},"transform":[{"filter":"datum.p==='C' && datum.k==='lr'"}],"mark":{"type":"text","align":"center","baseline":"middle","font":"Liberation Sans","fontSize":23,"color":"black"},"encoding":{"text":{"field":"label"}}},
{"data":{"name":"annot"},"transform":[{"filter":"datum.p==='C' && datum.k==='pv'"}],"mark":{"type":"text","align":"right","baseline":"middle","font":"Liberation Sans","fontSize":23,"fontStyle":"italic","color":"black"},"encoding":{"text":{"value":"p"}}},
{"data":{"name":"annot"},"transform":[{"filter":"datum.p==='C' && datum.k==='pv'"}],"mark":{"type":"text","align":"left","baseline":"middle","font":"Liberation Sans","fontSize":23,"color":"black","dx":4},"encoding":{"text":{"field":"label"}}},
{"data":{"name":"risk"},"transform":[{"filter":"datum.p==='C' && datum.t<12"}],"mark":{"type":"text","align":"center","baseline":"middle","font":"Liberation Sans","fontSize":19,"fontWeight":"bold","color":"black","dx":-2},"encoding":{"text":{"field":"n"}}},
{"data":{"name":"risk"},"transform":[{"filter":"datum.p==='C' && datum.t===12"}],"mark":{"type":"text","align":"right","baseline":"middle","font":"Liberation Sans","fontSize":19,"fontWeight":"bold","color":"black","dx":-12},"encoding":{"text":{"field":"n"}}}
]},
{"width":577,"height":314,
"title":{"text":"(D): Stroke","dx":-12,"offset":15},
"encoding":{
"x":{"field":"t","type":"quantitative","scale":{"domain":[-0.652,12.315],"nice":false,"zero":false},"axis":{"values":[0,3,6,9,12],"format":"d","title":"Duration Time (Mo)"}},
"y":{"field":"s","type":"quantitative","scale":{"domain":[0.89694,1.00374],"nice":false,"zero":false},"axis":{"values":[0.9,0.95,1.0],"format":".2f","title":"Survival Distribution Function","labelPadding":2,"titlePadding":20}}},
"layer":[
{"data":{"name":"curves"},"transform":[{"filter":"datum.p==='D' && datum.g==='DES'"}],"mark":{"type":"line","interpolate":"step-after","color":"#a3343a","strokeWidth":1.5,"strokeDash":[9,5]},"encoding":{}},
{"data":{"name":"curves"},"transform":[{"filter":"datum.p==='D' && datum.g==='BMS'"}],"mark":{"type":"line","interpolate":"step-after","color":"#2b2bef","strokeWidth":1.5},"encoding":{}},
{"data":{"name":"censor"},"transform":[{"filter":"datum.p==='D' && datum.g==='DES'"}],"mark":{"type":"tick","orient":"vertical","color":"#a3343a","size":7,"thickness":1.5}},
{"data":{"name":"censor"},"transform":[{"filter":"datum.p==='D' && datum.g==='BMS'"}],"mark":{"type":"tick","orient":"vertical","color":"#2b2bef","size":7,"thickness":1.5}},
{"data":{"name":"annot"},"transform":[{"filter":"datum.p==='D' && datum.k==='lineDES'"}],"mark":{"type":"rule","color":"#9b1b1b","strokeWidth":4},"encoding":{"x2":{"field":"t2"}}},
{"data":{"name":"annot"},"transform":[{"filter":"datum.p==='D' && datum.k==='lineBMS'"}],"mark":{"type":"rule","color":"#2424c8","strokeWidth":4},"encoding":{"x2":{"field":"t2"}}},
{"data":{"name":"annot"},"transform":[{"filter":"datum.p==='D' && datum.k==='leg'"}],"mark":{"type":"text","align":"left","baseline":"middle","font":"Liberation Sans","fontSize":23,"color":"black"},"encoding":{"text":{"field":"label"}}},
{"data":{"name":"annot"},"transform":[{"filter":"datum.p==='D' && datum.k==='lr'"}],"mark":{"type":"text","align":"center","baseline":"middle","font":"Liberation Sans","fontSize":23,"color":"black"},"encoding":{"text":{"field":"label"}}},
{"data":{"name":"annot"},"transform":[{"filter":"datum.p==='D' && datum.k==='pv'"}],"mark":{"type":"text","align":"right","baseline":"middle","font":"Liberation Sans","fontSize":23,"fontStyle":"italic","color":"black"},"encoding":{"text":{"value":"p"}}},
{"data":{"name":"annot"},"transform":[{"filter":"datum.p==='D' && datum.k==='pv'"}],"mark":{"type":"text","align":"left","baseline":"middle","font":"Liberation Sans","fontSize":23,"color":"black","dx":4},"encoding":{"text":{"field":"label"}}},
{"data":{"name":"annot"},"transform":[{"filter":"datum.p==='D' && datum.k==='faint'"}],"mark":{"type":"text","align":"center","baseline":"middle","font":"Liberation Sans","fontSize":11,"color":"#999999","dx":-2},"encoding":{"text":{"field":"label"}}},
{"data":{"name":"risk"},"transform":[{"filter":"datum.p==='D' && datum.t<12"}],"mark":{"type":"text","align":"center","baseline":"middle","font":"Liberation Sans","fontSize":19,"fontWeight":"bold","color":"black","dx":-2},"encoding":{"text":{"field":"n"}}},
{"data":{"name":"risk"},"transform":[{"filter":"datum.p==='D' && datum.t===12"}],"mark":{"type":"text","align":"right","baseline":"middle","font":"Liberation Sans","fontSize":19,"fontWeight":"bold","color":"black","dx":-12},"encoding":{"text":{"field":"n"}}}
]}
]
}
